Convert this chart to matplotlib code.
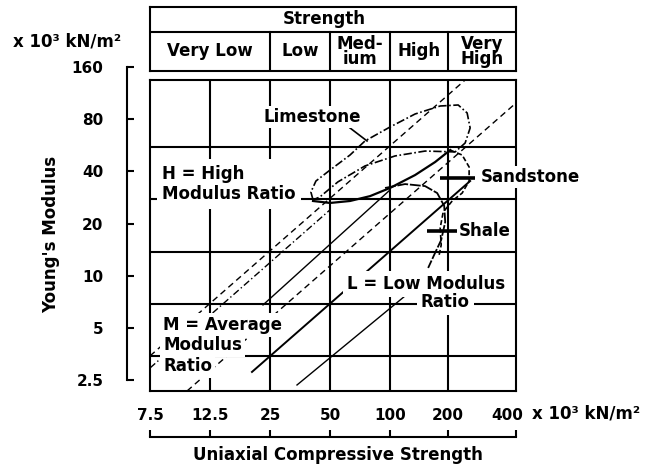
import numpy as np
import matplotlib
matplotlib.use("Agg")
import matplotlib.pyplot as plt
from matplotlib.ticker import NullLocator
from matplotlib.transforms import ScaledTranslation

plt.rcParams['font.family'] = ['DejaVu Sans']
plt.rcParams['font.weight'] = 'bold'

# ---------------- data ----------------
strength_ticks = [7.5, 12.5, 25, 50, 100, 200, 400]
strength_tick_labels = ["7.5", "12.5", "25", "50", "100", "200", "400"]
modulus_ticks = [160, 80, 40, 20, 10, 5, 2.5]
modulus_tick_labels = ["160", "80", "40", "20", "10", "5", "2.5"]
strength_grid = [12.5, 25, 50, 100, 200]
modulus_grid = [3.45, 6.9, 13.8, 27.6, 55.2]
strength_classes = ["Very Low", "Low", "Med-\nium", "High", "Very\nHigh"]
class_bounds = [7.5, 25, 50, 100, 200, 400]

# modulus-ratio lines (strength, modulus)
line_A_s = [7.5, 237.8];  line_A_m = [3.45, 134.6]   # dashed
line_B_s = [7.5, 50.0];   line_B_m = [2.94, 24.0]    # dash-dot
line_C_s = [10.28, 400];  line_C_m = [2.166, 99.2]   # dashed
line_D_s = [23.06, 100];  line_D_m = [6.79, 31.25]   # solid thin
line_E_s = [34.15, 119.6]; line_E_m = [2.346, 7.65]  # solid thin
line_F_s = [20.3, 250.3]; line_F_m = [2.79, 35.2]    # solid

# rock outlines (strength, modulus)
limestone_s = [41.1, 40.1, 42.5, 50.0, 63.0, 74.9, 100, 134.8, 181.8, 221.5, 242.7,
               250.3, 237.8, 214.8, 151.9, 106.2, 74.9, 54.8, 44.5, 41.1]
limestone_m = [27.4, 30.4, 35.2, 40.7, 49.7, 59.9, 72.1, 85.7, 95.3, 96.6, 86.9,
               71.2, 58.3, 51.8, 52.4, 49.1, 43.0, 34.8, 28.5, 27.4]
sand_lower_s = [41.1, 50.0, 63.0, 79.4, 100, 134.8, 171.2, 204.1]
sand_lower_m = [27.0, 26.3, 27.0, 28.8, 32.1, 38.1, 45.3, 53.1]
sand_bulge_s = [204.1, 230.7, 247.7, 247.7, 230.7, 208.3, 188.4, 181.8, 184.0, 179.6]
sand_bulge_m = [53.1, 49.7, 42.4, 35.2, 30.0, 27.0, 23.3, 18.9, 15.05, 13.2]
shale_s = [94.4, 119.6, 151.9, 175.4, 190.7, 193.0, 184.0, 169.2, 157.5]
shale_m = [32.1, 33.8, 32.9, 30.0, 25.3, 20.4, 16.1, 13.2, 11.1]

sand_mark_s = [181.8, 263.4]; sand_mark_m = [36.6, 36.6]
shale_mark_s = [155.6, 219.2]; shale_mark_m = [18.1, 18.1]
lime_leader_s = [63.0, 76.7]; lime_leader_m = [71.2, 59.9]

# ---------------- scale ----------------
tick_pos = [0, 1, 2, 3, 4, 4.97, 6.1]
LOGT = np.log(strength_ticks)

def fwd(s):
    s = np.asarray(s, dtype=float)
    return np.interp(np.log(np.clip(s, 1e-9, None)), LOGT, tick_pos)

def inv(p):
    p = np.asarray(p, dtype=float)
    return np.exp(np.interp(p, tick_pos, LOGT))

W, H = 648, 467
fig = plt.figure(figsize=(W / 100, H / 100), dpi=100)

def box(l, t, r, b):
    return [l / W, 1 - b / H, (r - l) / W, (b - t) / H]

LW = 1.5
# main plot box
ax = fig.add_axes(box(150, 80, 516, 391))
ax.set_xscale('function', functions=(fwd, inv))
ax.set_yscale('log', base=2)
ax.set_xlim(7.5, 400)
ax.set_ylim(2.166, 134.6)
ax.tick_params(which='both', left=False, bottom=False, labelleft=False, labelbottom=False)
for sp in ax.spines.values():
    sp.set_linewidth(LW)
for s in strength_grid:
    ax.axvline(s, color='k', lw=LW, zorder=1)
for m in modulus_grid:
    ax.axhline(m, color='k', lw=LW, zorder=1)

dash = (0, (4.5, 3))
dashdot = (0, (5, 2, 1, 2))
ax.plot(line_A_s, line_A_m, color='k', lw=1.0, ls=dash, zorder=2)
ax.plot(line_B_s, line_B_m, color='k', lw=1.0, ls=dashdot, zorder=2)
ax.plot(line_C_s, line_C_m, color='k', lw=1.0, ls=dash, zorder=2)
ax.plot(line_D_s, line_D_m, color='k', lw=1.0, zorder=2)
ax.plot(line_E_s, line_E_m, color='k', lw=1.0, zorder=2)
ax.plot(line_F_s, line_F_m, color='k', lw=1.4, zorder=2)

ax.plot(limestone_s, limestone_m, color='k', lw=1.2, ls=(0, (5, 1.5, 1, 1.5)), zorder=3)
ax.plot(sand_lower_s, sand_lower_m, color='k', lw=1.6, zorder=3)
ax.plot(sand_bulge_s, sand_bulge_m, color='k', lw=1.2, ls=(0, (3, 1.5)), zorder=3)
ax.plot(shale_s, shale_m, color='k', lw=1.3, ls=(0, (6, 1)), zorder=3)
ax.plot(sand_mark_s, sand_mark_m, color='k', lw=2.6, zorder=4, solid_capstyle='butt')
ax.plot(shale_mark_s, shale_mark_m, color='k', lw=2.6, zorder=4, solid_capstyle='butt')
ax.plot(lime_leader_s, lime_leader_m, color='k', lw=1.2, zorder=4)

FS = 12
wb = lambda p: dict(facecolor='white', edgecolor='none', pad=p)
ax.text(40.6, 82.4, "Limestone", fontsize=FS, ha='center', va='center', zorder=5, bbox=wb(1.5))
ax.text(280, 37.1, "Sandstone", fontsize=FS, ha='left', va='center', zorder=5, bbox=wb(1.5))
ax.text(223.7, 18.1, "Shale", fontsize=FS, ha='left', va='center', zorder=5, bbox=wb(1.0))
ax.text(8.31, 33.8, "H = High\nModulus Ratio", fontsize=FS, ha='left', va='center',
        zorder=5, bbox=wb(4))
for txt, m in zip(["M = Average", "Modulus", "Ratio"], [5.20, 3.99, 3.02]):
    ax.text(8.38, m, txt, fontsize=FS, ha='left', va='center', zorder=5, bbox=wb(2))
ax.text(153.8, 8.97, "L = Low Modulus", fontsize=FS, ha='center', va='center', zorder=5, bbox=wb(3))
ax.text(193.0, 7.06, "Ratio", fontsize=FS, ha='center', va='center', zorder=5, bbox=wb(3))

# y axis (detached)
ay = fig.add_axes(box(127, 67, 137, 380))
ay.patch.set_visible(False)
ay.set_yscale('log', base=2)
ay.set_ylim(2.5, 160)
for k in ['top', 'right', 'bottom']:
    ay.spines[k].set_visible(False)
ay.spines['left'].set_linewidth(LW)
ay.set_xticks([])
ay.set_yticks(modulus_ticks)
ay.set_yticklabels(modulus_tick_labels)
ay.yaxis.set_minor_locator(NullLocator())
ay.tick_params(axis='y', direction='in', length=5, width=LW, pad=17, labelsize=11)

# x axis (detached, labels above line)
axx = fig.add_axes(box(150, 437, 516, 447))
axx.patch.set_visible(False)
axx.set_xscale('function', functions=(fwd, inv))
axx.set_xlim(7.5, 400)
for k in ['left', 'right', 'bottom']:
    axx.spines[k].set_visible(False)
axx.spines['top'].set_linewidth(LW)
axx.set_yticks([])
axx.xaxis.set_ticks_position('top')
axx.set_xticks(strength_ticks)
axx.set_xticklabels(strength_tick_labels)
axx.xaxis.set_minor_locator(NullLocator())
axx.tick_params(axis='x', direction='out', length=5, width=LW, pad=5, labelsize=11)
last = axx.get_xticklabels()[-1]
last.set_transform(last.get_transform() + ScaledTranslation(-9 / 100, 0, fig.dpi_scale_trans))

# header table
hx = fig.add_axes(box(150, 7, 516, 71))
hx.set_xscale('function', functions=(fwd, inv))
hx.set_xlim(7.5, 400)
hx.set_ylim(0, 1)
hx.tick_params(which='both', left=False, bottom=False, labelleft=False, labelbottom=False)
hx.xaxis.set_minor_locator(NullLocator())
for sp in hx.spines.values():
    sp.set_linewidth(LW)
split = 1 - 25 / 64
hx.axhline(split, color='k', lw=LW)
for b in class_bounds[1:-1]:
    hx.plot([b, b], [0, split], color='k', lw=LW)
hx.text(46.6, (1 + split) / 2, "Strength", fontsize=FS, ha='center', va='center')
for name, lo, hi in zip(strength_classes, class_bounds[:-1], class_bounds[1:]):
    c = inv((fwd(lo) + fwd(hi)) / 2)
    hx.text(c, split / 2, name, fontsize=FS, ha='center', va='center', linespacing=0.85)

# outer labels
fig.text(67 / W, 1 - 41 / H, "x 10³ kN/m²", fontsize=FS, ha='center', va='center')
fig.text(532 / W, 1 - 414 / H, "x 10³ kN/m²", fontsize=FS, ha='left', va='center')
fig.text(338 / W, 1 - 455 / H, "Uniaxial Compressive Strength", fontsize=FS, ha='center', va='center')
fig.text(51 / W, 1 - 234 / H, "Young's Modulus", fontsize=FS, ha='center', va='center', rotation=90)

fig.savefig("out.png", dpi=100)
